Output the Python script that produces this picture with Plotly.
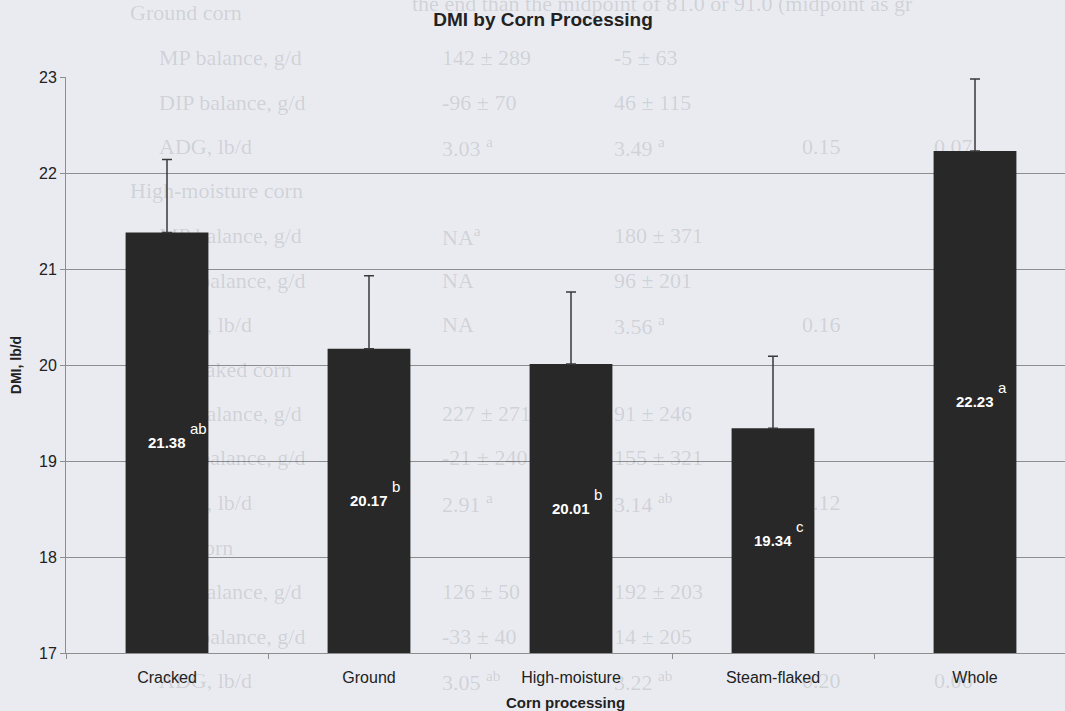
import plotly.graph_objects as go

# Dry matter intake by corn processing method
categories = ["Cracked", "Ground", "High-moisture", "Steam-flaked", "Whole"]
dmi = [21.38, 20.17, 20.01, 19.34, 22.23]
se = [0.76, 0.76, 0.75, 0.75, 0.75]
letters = ["ab", "b", "b", "c", "a"]

y_ticks = [17, 18, 19, 20, 21, 22, 23]

# Table printed on the reverse of the page, faintly showing through
page_heading = "the end than the midpoint of 81.0 or 91.0 (midpoint as gr"
page_rows = [
    "Ground corn", "MP balance, g/d", "DIP balance, g/d", "ADG, lb/d",
    "High-moisture corn", "MP balance, g/d", "DIP balance, g/d", "ADG, lb/d",
    "Steam-flaked corn", "MP balance, g/d", "DIP balance, g/d", "ADG, lb/d",
    "Whole corn", "MP balance, g/d", "DIP balance, g/d", "ADG, lb/d",
]
page_col2 = ["", "142 ± 289", "-96 ± 70", "3.03 <sup>a</sup>",
             "", "NA<sup>a</sup>", "NA", "NA",
             "", "227 ± 271", "-21 ± 240", "2.91 <sup>a</sup>",
             "", "126 ± 50", "-33 ± 40", "3.05 <sup>ab</sup>"]
page_col3 = ["", "-5 ± 63", "46 ± 115", "3.49 <sup>a</sup>",
             "", "180 ± 371", "96 ± 201", "3.56 <sup>a</sup>",
             "", "91 ± 246", "155 ± 321", "3.14 <sup>ab</sup>",
             "", "192 ± 203", "14 ± 205", "3.22 <sup>ab</sup>"]
page_col4 = ["", "", "", "0.15", "", "", "", "0.16",
             "", "", "", "0.12", "", "", "", "0.20"]
page_col5 = ["", "", "", "0.07", "", "", "", "",
             "", "", "", "", "", "", "", "0.06"]

# Layout geometry (pixels)
W, H = 1065, 711
L, T, B = 66, 77, 58
cat_px = 202.0
y_lo, y_hi = y_ticks[0], y_ticks[-1]
x_hi = -0.5 + (W - L) / cat_px   # right edge of the plot runs off the page

BG = "#e9ebf1"
GRID = "#8e8e8e"
INK = "#222222"
BAR = "#282828"
SANS = "Liberation Sans, Arial, sans-serif"
SERIF = "Liberation Serif, Times New Roman, serif"
# Dark but mostly transparent: shows as a pale grey on the paper, vanishes on the bars
GHOST = "rgba(40,40,48,0.14)"


def paper_x(px):
    return (px - L) / (W - L)


def paper_y(py):
    return (H - B - py) / (H - T - B)


fig = go.Figure()

xs = list(range(len(categories)))
fig.add_trace(go.Bar(
    x=xs, y=dmi, width=0.41,
    marker=dict(color=BAR, line=dict(width=0)),
    error_y=dict(type="data", symmetric=False, array=se, arrayminus=[0] * len(se),
                 color="#3a3a3a", thickness=1.5, width=5),
    showlegend=False,
))

annotations = []

# Show-through table
ghost_font = dict(family=SERIF, size=22, color=GHOST)
annotations.append(dict(
    x=paper_x(410), y=paper_y(4), xref="paper", yref="paper", text=page_heading,
    showarrow=False, xanchor="left", yanchor="middle", font=ghost_font,
))
for i, label in enumerate(page_rows):
    py = 13 + 44.5 * i
    header = label.endswith("corn")
    cells = [(128 if header else 157, label)]
    for col_px, col in ((440, page_col2), (612, page_col3), (800, page_col4), (932, page_col5)):
        if col[i]:
            cells.append((col_px, col[i]))
    for px, txt in cells:
        annotations.append(dict(
            x=paper_x(px), y=paper_y(py), xref="paper", yref="paper", text=txt,
            showarrow=False, xanchor="left", yanchor="middle", font=ghost_font,
        ))

# Mean value plus significance letter, centred in each bar
for i, (v, let) in enumerate(zip(dmi, letters)):
    mid = (y_lo + v) / 2
    annotations.append(dict(
        x=i, y=mid, xref="x", yref="y", text=f"<b>{v:.2f}</b>", showarrow=False,
        xanchor="center", yanchor="middle",
        font=dict(family=SANS, size=15, color="white"),
    ))
    annotations.append(dict(
        x=i, y=mid, xref="x", yref="y", text=let, showarrow=False,
        xanchor="left", yanchor="middle", xshift=21, yshift=14,
        font=dict(family=SANS, size=15, color="white"),
    ))

fig.update_layout(
    width=W, height=H,
    margin=dict(l=L, r=0, t=T, b=B, pad=0),
    paper_bgcolor=BG, plot_bgcolor=BG,
    title=dict(text="<b>DMI by Corn Processing</b>", x=543 / W, xref="container",
               xanchor="center", y=1 - 19 / H, yref="container", yanchor="middle",
               font=dict(family=SANS, size=19, color=INK)),
    xaxis=dict(
        range=[-0.5, x_hi], tickmode="array", tickvals=xs, ticktext=categories,
        ticks="", showgrid=False, zeroline=False,
        showline=True, linecolor=GRID, linewidth=1,
        tickfont=dict(family=SANS, size=16, color=INK),
        ticklabelstandoff=10,
        minor=dict(tick0=0.5, dtick=1, ticks="outside", ticklen=5,
                   tickcolor=GRID, tickwidth=1, showgrid=False),
        title=dict(text="<b>Corn processing</b>", standoff=12,
                   font=dict(family=SANS, size=15, color=INK)),
        fixedrange=True,
    ),
    yaxis=dict(
        range=[y_lo, y_hi], tickmode="array", tickvals=y_ticks,
        ticks="outside", ticklen=5, tickcolor=GRID, tickwidth=1,
        showgrid=True, gridcolor=GRID, gridwidth=1, zeroline=False,
        showline=True, linecolor=GRID, linewidth=1,
        tickfont=dict(family=SANS, size=16, color=INK),
        title=dict(text="<b>DMI, lb/d</b>", standoff=14,
                   font=dict(family=SANS, size=14, color=INK)),
        fixedrange=True,
    ),
    annotations=annotations,
    bargap=0.59,
)

fig.write_html("out.html", config={"displayModeBar": False})
